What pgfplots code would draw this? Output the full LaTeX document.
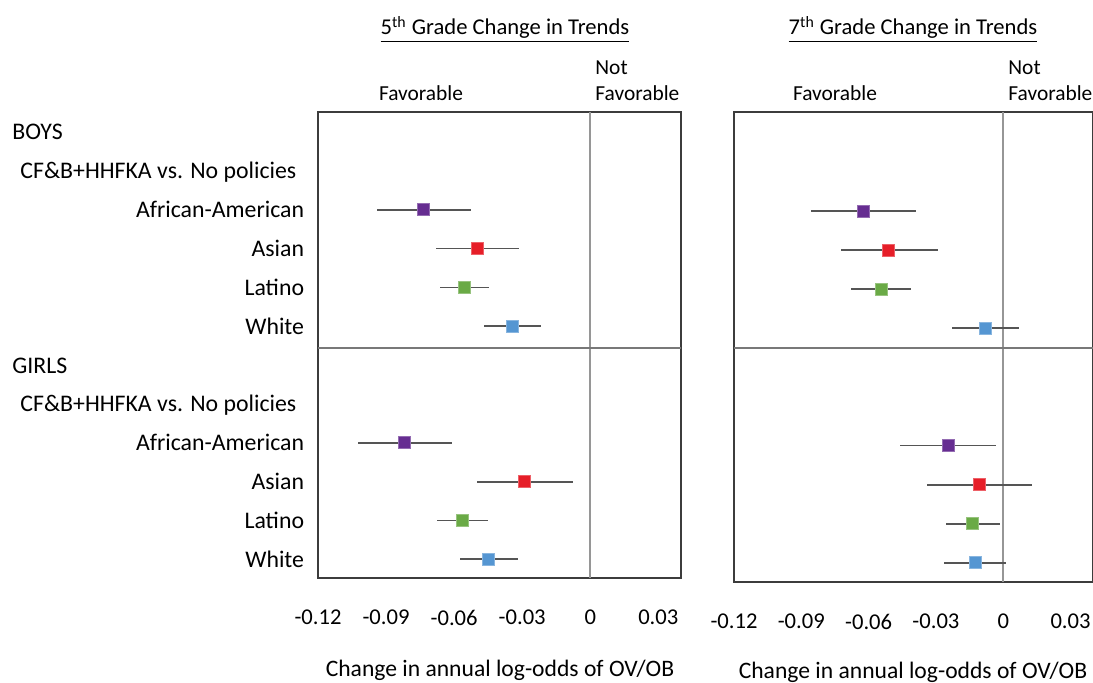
\documentclass[border=0pt]{standalone}
\usepackage{fontspec}
\setmainfont{Carlito}
\usepackage{pgfplots}
\usepackage{pgfplotstable}
\pgfplotsset{compat=1.18}

\definecolor{cAA}{RGB}{102,45,145}
\definecolor{cAS}{RGB}{230,30,40}
\definecolor{cLA}{RGB}{106,170,70}
\definecolor{cWH}{RGB}{85,150,210}
\definecolor{boxc}{RGB}{60,60,60}
\definecolor{errc}{RGB}{85,85,85}
\definecolor{zeroc}{RGB}{150,150,150}

% row est lo hi group
\pgfplotstableread{
row est lo hi g
2 -0.0735 -0.0941 -0.0525 aa
3 -0.0498 -0.0681 -0.0315 as
4 -0.0556 -0.0662 -0.0446 la
5 -0.0344 -0.0468 -0.0215 wh
8 -0.0819 -0.1023 -0.0610 aa
9 -0.0291 -0.0501 -0.0078 as
10 -0.0562 -0.0675 -0.0449 la
11 -0.0451 -0.0576 -0.0318 wh
}\gradefive

\pgfplotstableread{
row est lo hi g
2 -0.0625 -0.0858 -0.0390 aa
3 -0.0510 -0.0723 -0.0292 as
4 -0.0544 -0.0677 -0.0409 la
5 -0.0081 -0.0228 0.0068 wh
8 -0.0246 -0.0459 -0.0033 aa
9 -0.0108 -0.0339 0.0129 as
10 -0.0136 -0.0256 -0.0016 la
11 -0.0126 -0.0262 0.0012 wh
}\gradeseven

\tikzset{
  rowfont/.style={font=\fontsize{11.9}{14}\selectfont},
  headfont/.style={font=\fontsize{10.7}{13}\selectfont},
}

\pgfplotsset{
  forest/.style={
    scale only axis,
    anchor=north west,
    y dir=reverse,
    xmin=-0.12, xmax=0.04,
    xtick={-0.12,-0.09,-0.06,-0.03,0,0.03},
    xticklabels={-0.12,-0.09,-0.06,-0.03,0,0.03},
    major tick length=0pt,
    axis line style={draw=boxc, line width=0.8pt},
    xticklabel style={yshift=-12pt},
    clip=false,
  },
  bars/.style={
    draw=none, mark=none, forget plot,
    error bars/.cd, x dir=both, x explicit, error mark=none,
    error bar style={draw=errc, line width=0.9pt},
  },
  dots/.style={
    scatter, only marks, point meta=explicit symbolic,
    scatter/classes={
      aa={mark=square*, mark size=3pt, draw=cAA!70!white, fill=cAA},
      as={mark=square*, mark size=3pt, draw=cAS!70!white, fill=cAS},
      la={mark=square*, mark size=3pt, draw=cLA!70!white, fill=cLA},
      wh={mark=square*, mark size=3pt, draw=cWH!70!white, fill=cWH}},
  },
}

\begin{document}
\fontsize{11.3}{13.6}\selectfont
\begin{tikzpicture}
\useasboundingbox (0,0) rectangle (546.5pt,-341.5pt);

% 5th grade
\begin{axis}[forest, at={(159pt,-56pt)}, width=181.5pt, height=233pt,
  ymin=-0.515, ymax=11.48,
  ytick={2,3,4,5,8,9,10,11},
  yticklabels={African-American,Asian,Latino,White,African-American,Asian,Latino,White},
  yticklabel style={xshift=-3pt, rowfont},
]
  \draw[zeroc, line width=0.8pt] (axis cs:0,-0.515) -- (axis cs:0,11.48);
  \draw[zeroc!80!black, line width=0.8pt] (axis cs:-0.12,5.56) -- (axis cs:0.04,5.56);
  \addplot[bars] table[x=est, y=row,
    x error plus expr=\thisrow{hi}-\thisrow{est},
    x error minus expr=\thisrow{est}-\thisrow{lo}] {\gradefive};
  \addplot[dots] table[x=est, y=row, meta=g] {\gradefive};
\end{axis}

% 7th grade
\begin{axis}[forest, at={(367pt,-56pt)}, width=179.5pt, height=235pt,
  ymin=-0.53, ymax=11.49,
  ytick=\empty,
]
  \draw[zeroc, line width=0.8pt] (axis cs:0,-0.53) -- (axis cs:0,11.49);
  \draw[zeroc!80!black, line width=0.8pt] (axis cs:-0.12,5.5) -- (axis cs:0.04,5.5);
  \addplot[bars] table[x=est, y=row,
    x error plus expr=\thisrow{hi}-\thisrow{est},
    x error minus expr=\thisrow{est}-\thisrow{lo}] {\gradeseven};
  \addplot[dots] table[x=est, y=row, meta=g] {\gradeseven};
\end{axis}

% titles and headers
\node[anchor=base] at (252.5pt,-17.5pt) {\underline{5\textsuperscript{th} Grade Change in Trends}};
\node[anchor=base] at (456.5pt,-17.5pt) {\underline{7\textsuperscript{th} Grade Change in Trends}};
\node[anchor=base, headfont] at (210.5pt,-50.5pt) {Favorable};
\node[anchor=base west, inner sep=0pt, headfont] at (297.5pt,-50.5pt) {Favorable};
\node[anchor=base west, inner sep=0pt, headfont] at (297.5pt,-37.5pt) {Not};
\node[anchor=base, headfont] at (417.5pt,-50.5pt) {Favorable};
\node[anchor=base west, inner sep=0pt, headfont] at (504pt,-50.5pt) {Favorable};
\node[anchor=base west, inner sep=0pt, headfont] at (504pt,-37.5pt) {Not};

% group labels
\node[anchor=west, inner sep=0pt, rowfont] at (6pt,-66pt) {BOYS};
\node[anchor=west, inner sep=0pt, rowfont] at (10pt,-86pt) {CF\&B+HHFKA vs. No policies};
\node[anchor=west, inner sep=0pt, rowfont] at (6pt,-183pt) {GIRLS};
\node[anchor=west, inner sep=0pt, rowfont] at (10pt,-202.5pt) {CF\&B+HHFKA vs. No policies};

% x labels
\node[anchor=base, font=\fontsize{11.8}{14}\selectfont] at (250pt,-338.5pt) {Change in annual log-odds of OV/OB};
\node[anchor=base, font=\fontsize{11.8}{14}\selectfont] at (456.5pt,-339.5pt) {Change in annual log-odds of OV/OB};
\end{tikzpicture}
\end{document}
